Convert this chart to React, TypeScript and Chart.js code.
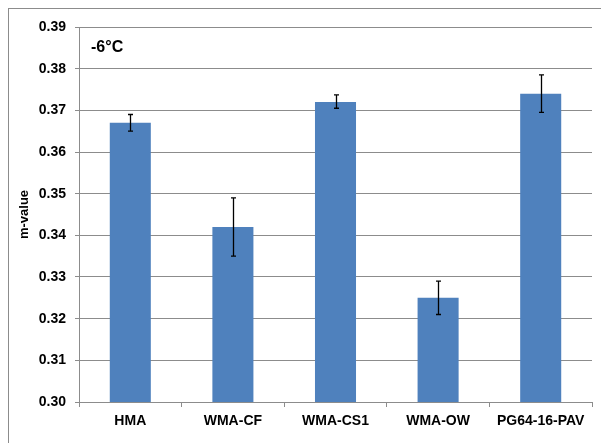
import React, { useEffect, useRef } from "react";
import { Chart, registerables } from "chart.js";

Chart.register(...registerables);

const categories = ["HMA", "WMA-CF", "WMA-CS1", "WMA-OW", "PG64-16-PAV"];
const mValues = [0.367, 0.342, 0.372, 0.325, 0.374];
const errLow = [0.365, 0.335, 0.3705, 0.321, 0.3695];
const errHigh = [0.369, 0.349, 0.3737, 0.329, 0.3785];
const yTicks = [0.3, 0.31, 0.32, 0.33, 0.34, 0.35, 0.36, 0.37, 0.38, 0.39];
const annotation = "-6°C";
const yTitle = "m-value";

const FONT = "'Liberation Sans', Arial, sans-serif";

const errorBarPlugin = {
  id: "errorBars",
  afterDatasetsDraw(chart: any) {
    const ctx = chart.ctx;
    const meta = chart.getDatasetMeta(0);
    const y = chart.scales.y;
    ctx.save();
    ctx.strokeStyle = "#000000";
    ctx.lineWidth = 1.3;
    meta.data.forEach((bar: any, i: number) => {
      const x = Math.round(bar.x) + 0.5;
      const yTop = y.getPixelForValue(errHigh[i]);
      const yBot = y.getPixelForValue(errLow[i]);
      ctx.beginPath();
      ctx.moveTo(x, yTop);
      ctx.lineTo(x, yBot);
      ctx.moveTo(x - 2.5, yTop);
      ctx.lineTo(x + 2.5, yTop);
      ctx.moveTo(x - 2.5, yBot);
      ctx.lineTo(x + 2.5, yBot);
      ctx.stroke();
    });
    const area = chart.chartArea;
    ctx.fillStyle = "#000000";
    ctx.font = `bold 16px ${FONT}`;
    ctx.textBaseline = "middle";
    ctx.textAlign = "left";
    ctx.fillText(annotation, area.left + 12, area.top + 21);
    ctx.restore();
  },
};

export default function App() {
  const canvasRef = useRef<HTMLCanvasElement | null>(null);

  useEffect(() => {
    if (!canvasRef.current) return;
    const chart = new Chart(canvasRef.current, {
      type: "bar",
      data: {
        labels: categories,
        datasets: [
          {
            data: mValues,
            backgroundColor: "#4F81BD",
            borderWidth: 0,
            barPercentage: 0.4,
            categoryPercentage: 1.0,
          },
        ],
      },
      options: {
        animation: false,
        responsive: false,
        maintainAspectRatio: false,
        layout: { padding: { top: 18, right: 9, bottom: 0, left: 0 } },
        plugins: {
          legend: { display: false },
          tooltip: { enabled: false },
        },
        scales: {
          x: {
            offset: true,
            grid: {
              offset: true,
              drawOnChartArea: false,
              drawTicks: true,
              tickLength: 5,
              color: "#8c8c8c",
            },
            border: { color: "#8c8c8c", width: 1 },
            ticks: {
              color: "#000000",
              font: { family: FONT, size: 14, weight: "bold" },
              padding: 6,
              maxRotation: 0,
              autoSkip: false,
            },
            afterFit(scale: any) {
              scale.height = 41;
            },
          },
          y: {
            min: 0.3,
            max: 0.39,
            afterBuildTicks(scale: any) {
              scale.ticks = yTicks.map((v) => ({ value: v }));
            },
            grid: {
              color: "#8c8c8c",
              tickLength: 4,
              lineWidth: 1,
            },
            border: { color: "#8c8c8c", width: 1 },
            ticks: {
              color: "#000000",
              font: { family: FONT, size: 14, weight: "bold" },
              padding: 9,
              callback: (v: any) => Number(v).toFixed(2),
            },
            title: {
              display: true,
              text: yTitle,
              color: "#000000",
              font: { family: FONT, size: 13, weight: "bold" },
              padding: { top: 8, bottom: 0 },
            },
            afterFit(scale: any) {
              scale.width = 70;
            },
          },
        },
      },
      plugins: [errorBarPlugin],
    });
    return () => chart.destroy();
  }, []);

  return (
    <div
      style={{
        position: "fixed",
        left: 8,
        top: 8,
        width: 593,
        height: 435,
        boxSizing: "border-box",
        borderTop: "1px solid #8c8c8c",
        borderLeft: "1px solid #8c8c8c",
        background: "#ffffff",
      }}
    >
      <canvas ref={canvasRef} width={592} height={434} style={{ display: "block" }} />
    </div>
  );
}
